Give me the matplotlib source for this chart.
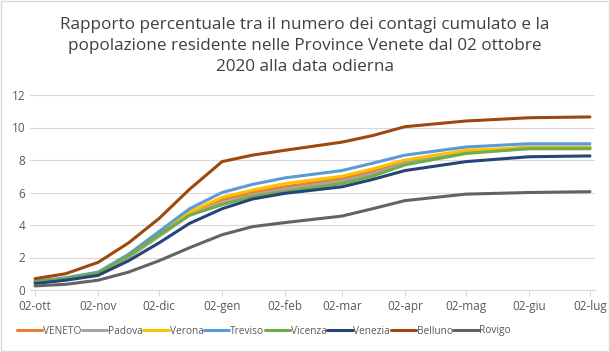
import matplotlib.pyplot as plt
import matplotlib.dates as mdates
import numpy as np
from datetime import date

plt.rcParams['font.family'] = ['Open Sans', 'DejaVu Sans']

dates = [date(2020, 10, 2), date(2020, 10, 17), date(2020, 11, 2), date(2020, 11, 17),
         date(2020, 12, 2), date(2020, 12, 17), date(2021, 1, 2), date(2021, 1, 17),
         date(2021, 2, 2), date(2021, 3, 2), date(2021, 3, 17), date(2021, 4, 2),
         date(2021, 5, 2), date(2021, 6, 2), date(2021, 7, 2)]

veneto  = [0.50, 0.70, 1.05, 2.1, 3.4, 4.8, 5.55, 6.0, 6.35, 6.85, 7.3, 7.9, 8.5, 8.7, 8.7]
padova  = [0.50, 0.68, 1.0, 2.0, 3.3, 4.6, 5.35, 5.85, 6.2, 6.7, 7.15, 7.8, 8.5, 8.8, 8.8]
verona  = [0.50, 0.70, 1.05, 2.1, 3.4, 4.8, 5.7, 6.15, 6.55, 7.0, 7.45, 8.0, 8.6, 8.75, 8.75]
treviso = [0.55, 0.75, 1.1, 2.2, 3.6, 5.0, 6.0, 6.5, 6.9, 7.35, 7.8, 8.3, 8.8, 9.0, 9.0]
vicenza = [0.50, 0.70, 1.05, 2.1, 3.4, 4.6, 5.25, 5.75, 6.05, 6.55, 7.0, 7.7, 8.4, 8.7, 8.7]
venezia = [0.40, 0.60, 0.90, 1.8, 2.9, 4.1, 5.0, 5.6, 5.95, 6.35, 6.8, 7.35, 7.9, 8.2, 8.25]
belluno = [0.70, 1.0, 1.7, 2.9, 4.4, 6.2, 7.9, 8.3, 8.6, 9.1, 9.5, 10.05, 10.4, 10.6, 10.65]
rovigo  = [0.25, 0.35, 0.60, 1.1, 1.8, 2.6, 3.4, 3.9, 4.15, 4.55, 5.0, 5.5, 5.9, 6.0, 6.05]

names = ['VENETO', 'Padova', 'Verona', 'Treviso', 'Vicenza', 'Venezia', 'Belluno', 'Rovigo']
series = [veneto, padova, verona, treviso, vicenza, venezia, belluno, rovigo]
colors = ['#ED7D31', '#A5A5A5', '#FFC000', '#5B9BD5', '#70AD47', '#264478', '#9E480E', '#636363']

tick_dates = [date(2020, 10, 2), date(2020, 11, 2), date(2020, 12, 2), date(2021, 1, 2),
              date(2021, 2, 2), date(2021, 3, 2), date(2021, 4, 2), date(2021, 5, 2),
              date(2021, 6, 2), date(2021, 7, 2)]
tick_labels = ['02-ott', '02-nov', '02-dic', '02-gen', '02-feb', '02-mar',
               '02-apr', '02-mag', '02-giu', '02-lug']

fig = plt.figure(figsize=(6.1, 3.52), dpi=100)
ax = fig.add_axes([30 / 610, 1 - 290 / 352, 565 / 610, 195 / 352])

for name, vals, c in zip(names, series, colors):
    ax.plot(dates, vals, color=c, lw=2.2, label=name, solid_capstyle='round')

ax.set_ylim(0, 12)
ax.set_yticks(np.arange(0, 13, 2))
ax.set_xlim(mdates.date2num(date(2020, 9, 29)) + 0.5, mdates.date2num(date(2021, 7, 4)) + 0.5)
ax.set_xticks(tick_dates)
ax.set_xticklabels(tick_labels)
ax.grid(axis='y', color='#D9D9D9', lw=0.8)
ax.set_axisbelow(True)
for s in ['top', 'right', 'left']:
    ax.spines[s].set_visible(False)
ax.spines['bottom'].set_color('#D9D9D9')
ax.tick_params(axis='x', colors='#D9D9D9', length=4, labelcolor='#595959', labelsize=8.5)
ax.tick_params(axis='y', length=0, labelcolor='#595959', labelsize=8.5)

fig.text(0.5, 1 - 46 / 352, 'Rapporto percentuale tra il numero dei contagi cumulato e la\n'
         'popolazione residente nelle Province Venete dal 02 ottobre\n2020 alla data odierna',
         ha='center', va='center', fontsize=12.3, color='#404040', linespacing=1.38)

leg = fig.legend(loc='center', bbox_to_anchor=(264 / 610, 1 - 331 / 352), ncol=8, frameon=False,
                 fontsize=7.3, handlelength=2.5, handletextpad=0.08, columnspacing=0.05,
                 labelcolor='#595959', borderpad=0, borderaxespad=0)

border = plt.Rectangle((0.001, 0.002), 0.997, 0.995, transform=fig.transFigure,
                       fill=False, edgecolor='#D9D9D9', lw=1)
fig.patches.append(border)

fig.savefig('out.png', dpi=100)
